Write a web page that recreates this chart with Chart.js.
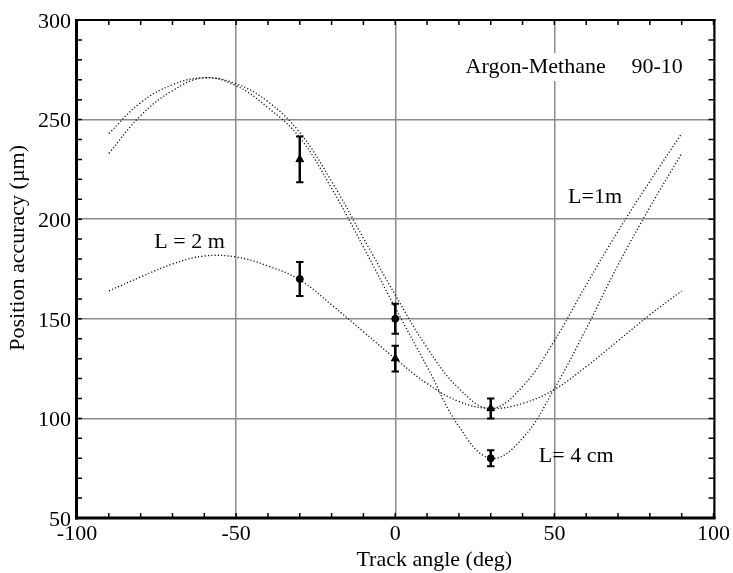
<!DOCTYPE html>
<html><head><meta charset="utf-8">
<script src="https://cdn.jsdelivr.net/npm/chart.js@4.4.0/dist/chart.umd.min.js"></script>
<style>html,body{margin:0;padding:0;background:#fff;}#wrap{width:733px;height:573px;}</style>
</head><body><div id="wrap"><canvas id="c" width="733" height="573"></canvas></div>
<script>
// ---- data ----
const angles = [-90,-80,-70,-60,-50,-40,-30,-20,-10,0,10,20,30,40,50,60,70,80,90];
const curveL1m = [243,258.5,267.5,271,268,259,243.5,219,190.5,162,135.5,115,105,116,139,167,194,219,243];
const curveL4cm = [233,252,264.5,271,267,256,241,215.5,186,155.5,126,96,80,90,115,145,177,206,233];
const curveL2m = [164,171,177.5,181.5,181,176.5,169.5,157,143.5,130,117.5,108.5,105,107.5,114.5,126,139,152,164];
const measAngles = [-30,0,30];
const triangleVals = [230,130,105];
const triangleErr = [11.5,6.5,5];
const circleVals = [170,150,80];
const circleErr = [8.5,7.5,4];
const xTickValues = [-100,-50,0,50,100];
const yTickValues = [50,100,150,200,250,300];
const minorStep = 10;
const xTitle = 'Track angle (deg)';
const yTitle = 'Position accuracy (µm)';
const notes = [
  {text:'Argon-Methane', x:22.1, y:273.4, bg:true},
  {text:'90-10', x:74.2, y:273.4, bg:true},
  {text:'L=1m', x:54.3, y:208.3},
  {text:'L = 2 m', x:-75.7, y:185.4},
  {text:'L= 4 cm', x:45.1, y:78.0}
];

const FONT = '"Liberation Serif","Times New Roman",serif';
const pts = (xs, ys) => xs.map((x,i)=>({x:x, y:ys[i]}));
const curveStyle = {showLine:true, pointRadius:0, borderColor:'#111', borderWidth:1.3,
  borderDash:[1.2,2.1], fill:false, tension:0.4};

const extras = {
  id:'extras',
  afterDatasetsDraw(chart){
    const ctx = chart.ctx, xs = chart.scales.x, ys = chart.scales.y, a = chart.chartArea;
    ctx.save();
    ctx.strokeStyle = '#000';
    const drawErr = (vals, errs) => {
      measAngles.forEach((ang,i)=>{
        const px = xs.getPixelForValue(ang);
        const top = ys.getPixelForValue(vals[i]+errs[i]);
        const bot = ys.getPixelForValue(vals[i]-errs[i]);
        ctx.lineWidth = 2.5;
        ctx.beginPath(); ctx.moveTo(px, top); ctx.lineTo(px, bot); ctx.stroke();
        ctx.lineWidth = 2;
        ctx.beginPath(); ctx.moveTo(px-3.7, top); ctx.lineTo(px+3.7, top);
        ctx.moveTo(px-3.7, bot); ctx.lineTo(px+3.7, bot); ctx.stroke();
      });
    };
    drawErr(triangleVals, triangleErr);
    drawErr(circleVals, circleErr);
    ctx.font = '22px ' + FONT;
    ctx.textBaseline = 'alphabetic';
    ctx.textAlign = 'left';
    const bgs = notes.filter(n=>n.bg);
    if (bgs.length){
      let l = Infinity, r = -Infinity, yb = 0;
      bgs.forEach(n=>{const px = xs.getPixelForValue(n.x); l=Math.min(l,px); r=Math.max(r,px+ctx.measureText(n.text).width); yb = ys.getPixelForValue(n.y);});
      ctx.fillStyle = '#fff';
      ctx.fillRect(l-4, yb-20, r-l+8, 28);
    }
    ctx.fillStyle = '#000';
    notes.forEach(n=>{ ctx.fillText(n.text, xs.getPixelForValue(n.x), ys.getPixelForValue(n.y)); });
    ctx.fillStyle = '#000';
    ctx.fillRect(a.left-2, a.top-1, 3, a.bottom-a.top+2.5);
    ctx.fillRect(a.left-2, a.bottom-1.5, a.right-a.left+4, 3);
    ctx.fillRect(a.left-2, a.top-1, a.right-a.left+4, 2);
    ctx.fillRect(a.right, a.top-1, 2, a.bottom-a.top+2);
    ctx.strokeStyle = '#000'; ctx.lineWidth = 1.5;
    ctx.beginPath();
    for (let v = xs.min; v <= xs.max; v += minorStep){
      const px = xs.getPixelForValue(v);
      ctx.moveTo(px, a.bottom); ctx.lineTo(px, a.bottom-5);
      ctx.moveTo(px, a.top); ctx.lineTo(px, a.top+5);
    }
    for (let v = ys.min; v <= ys.max; v += minorStep){
      const py = ys.getPixelForValue(v);
      ctx.moveTo(a.left, py); ctx.lineTo(a.left+5, py);
      ctx.moveTo(a.right, py); ctx.lineTo(a.right-5, py);
    }
    ctx.stroke();
    ctx.fillStyle = '#000';
    ctx.font = '22px ' + FONT;
    ctx.textAlign = 'right';
    ctx.textBaseline = 'alphabetic';
    ctx.fillText(xTitle, 512, 566);
    ctx.translate(24, 145);
    ctx.rotate(-Math.PI/2);
    ctx.fillText(yTitle, 0, 0);
    ctx.restore();
  }
};

new Chart(document.getElementById('c'), {
  type:'scatter',
  data:{datasets:[
    Object.assign({label:'L=1m', data:pts(angles, curveL1m)}, curveStyle),
    Object.assign({label:'L=4cm', data:pts(angles, curveL4cm)}, curveStyle),
    Object.assign({label:'L=2m', data:pts(angles, curveL2m)}, curveStyle),
    {label:'triangles', data:pts(measAngles, triangleVals), pointStyle:'triangle', pointRadius:4.5,
     backgroundColor:'#000', borderColor:'#000', borderWidth:1, showLine:false},
    {label:'circles', data:pts(measAngles, circleVals), pointStyle:'circle', pointRadius:3.5,
     backgroundColor:'#000', borderColor:'#000', borderWidth:1, showLine:false}
  ]},
  options:{
    responsive:false, animation:false, devicePixelRatio:1,
    layout:{padding:{top:20, right:19, left:0, bottom:0}},
    plugins:{legend:{display:false}, tooltip:{enabled:false}, title:{display:false}},
    scales:{
      x:{type:'linear', min:-100, max:100,
        afterBuildTicks:s=>{s.ticks = xTickValues.map(v=>({value:v}));},
        ticks:{font:{family:FONT, size:22}, color:'#000', padding:3, maxRotation:0, autoSkip:false},
        grid:{color:'#8c8c8c', lineWidth:1.5, drawTicks:false},
        border:{display:false},
        afterFit:s=>{s.height = 55;}},
      y:{type:'linear', min:50, max:300,
        afterBuildTicks:s=>{s.ticks = yTickValues.map(v=>({value:v}));},
        ticks:{font:{family:FONT, size:22}, color:'#000', padding:6, labelOffset:2, autoSkip:false},
        grid:{color:'#8c8c8c', lineWidth:1.5, drawTicks:false},
        border:{display:false},
        afterFit:s=>{s.width = 77;}}
    }
  },
  plugins:[extras]
});
</script></body></html>
